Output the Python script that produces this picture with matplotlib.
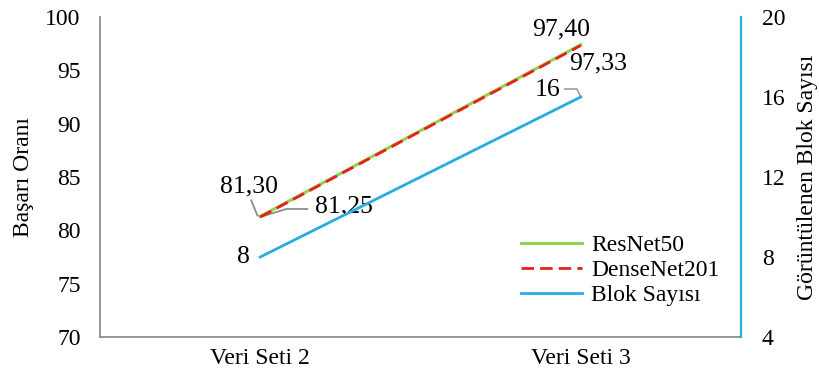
import matplotlib
matplotlib.use("Agg")
import matplotlib.pyplot as plt

plt.rcParams['font.family'] = ['Liberation Serif', 'DejaVu Serif']

categories = ["Veri Seti 2", "Veri Seti 3"]
resnet50 = [81.30, 97.40]
densenet201 = [81.25, 97.33]
blok_sayisi = [8, 16]

green = "#92D050"
red = "#E8201A"
blue = "#25AEDF"
gray = "#8C8C8C"

fig = plt.figure(figsize=(8.2, 3.85), dpi=100)
ax = fig.add_axes([100/820, 1-337/385, 641/820, 320/385])
ax2 = ax.twinx()

x = list(range(len(categories)))
l1, = ax.plot(x, resnet50, color=green, lw=2.2, label="ResNet50")
l2, = ax.plot(x, densenet201, color=red, lw=2.0, ls=(0, (4.5, 2.2)), label="DenseNet201")
l3, = ax2.plot(x, blok_sayisi, color=blue, lw=2.0, label="Blok Sayısı")

ax.set_xlim(-0.5, 1.5)
ax.set_ylim(70, 100)
ax.set_yticks([70, 75, 80, 85, 90, 95, 100])
ax2.set_ylim(4, 20)
ax2.set_yticks([4, 8, 12, 16, 20])
ax.set_xticks(x)
ax.set_xticklabels(categories)

tfs = 17
ax.tick_params(axis='y', length=0, labelsize=tfs, pad=14)
ax.tick_params(axis='x', length=0, labelsize=tfs, pad=8)
ax2.tick_params(axis='y', length=0, labelsize=tfs, pad=15)
for a in (ax, ax2):
    a.spines['top'].set_visible(False)
ax.spines['left'].set_color(gray)
ax.spines['bottom'].set_color(gray)
ax.spines['right'].set_visible(False)
ax2.spines['left'].set_visible(False)
ax2.spines['bottom'].set_visible(False)
ax2.spines['right'].set_color(blue)
ax2.spines['right'].set_linewidth(1.6)
ax.spines['left'].set_linewidth(1.3)
ax.spines['bottom'].set_linewidth(1.3)

ax.set_ylabel("Başarı Oranı", fontsize=tfs, labelpad=8)
ax2.set_ylabel("Görüntülenen Blok Sayısı", fontsize=tfs, labelpad=8)

fs = 18.5
def fmt(v):
    return f"{v:.2f}".replace(".", ",")

def lab(a, text, xy, off):
    a.annotate(text, xy=xy, xytext=off, textcoords='offset pixels',
               fontsize=fs, ha='center', va='center')

lab(ax, fmt(resnet50[0]), (x[0], resnet50[0]), (-11, 30))
lab(ax, fmt(densenet201[0]), (x[0], densenet201[0]), (84, 11))
lab(ax, fmt(resnet50[1]), (x[1], resnet50[1]), (-20, 15))
lab(ax, fmt(densenet201[1]), (x[1], densenet201[1]), (17, -18))
lab(ax2, str(blok_sayisi[0]), (x[0], blok_sayisi[0]), (-17, 0))
lab(ax2, str(blok_sayisi[1]), (x[1], blok_sayisi[1]), (-33, 7))

# leader lines
ax.plot([x[0]-0.028, x[0]-0.009, x[0]], [82.8, 81.4, resnet50[0]], color=gray, lw=1.3, zorder=1)
ax.plot([x[0], x[0]+0.081, x[0]+0.147], [densenet201[0], 82.0, 82.0], color=gray, lw=1.3, zorder=1)
ax2.plot([x[1]-0.05, x[1]-0.012, x[1]], [16.4, 16.4, blok_sayisi[1]], color=gray, lw=1.0, zorder=1)

leg = ax.legend(handles=[l1, l2, l3], loc='lower right', bbox_to_anchor=(1.0, 0.03),
                frameon=False, fontsize=tfs, handlelength=2.6, handletextpad=0.4,
                labelspacing=0.15)

fig.savefig("out.png", dpi=100)
